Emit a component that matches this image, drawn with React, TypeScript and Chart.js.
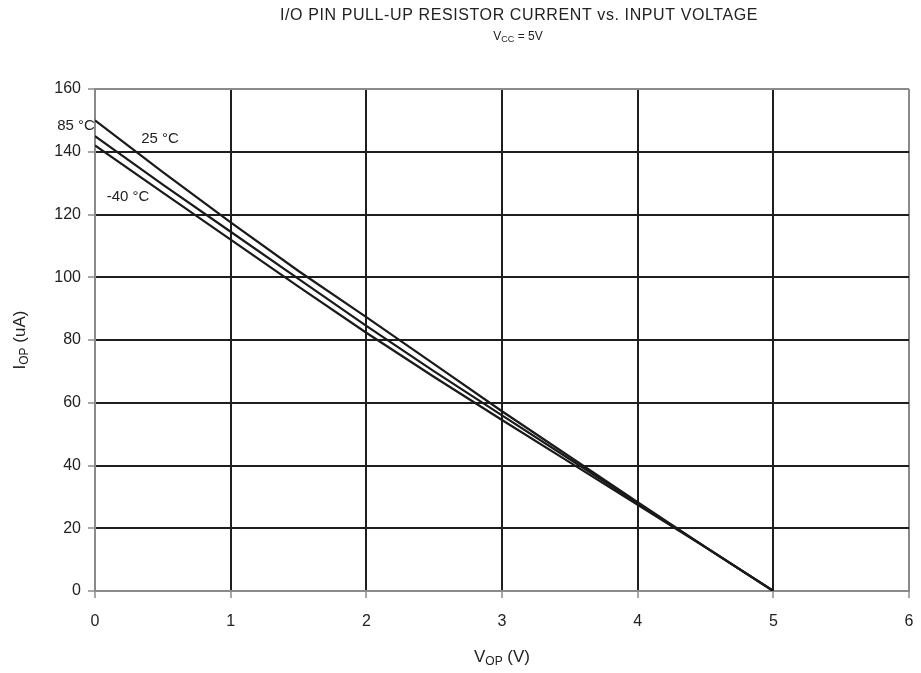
import React, { useEffect, useRef } from "react";
import { Chart, registerables } from "chart.js";
Chart.register(...registerables);

const xTicks = [0, 1, 2, 3, 4, 5, 6];
const yTicks = [0, 20, 40, 60, 80, 100, 120, 140, 160];

const vop85 = [0, 0.5, 1, 1.5, 2, 2.5, 3, 3.5, 4, 4.5, 5];
const iop85 = [150, 133.5, 117.5, 102, 87.3, 72.3, 57.3, 42.8, 28.3, 14, 0];
const vop25 = [0, 0.5, 1, 1.5, 2, 2.5, 3, 3.5, 4, 4.5, 5];
const iop25 = [145, 129.5, 114.5, 99.5, 84.5, 70, 56, 42, 28, 14, 0];
const vopM40 = [0, 0.5, 1, 1.5, 2, 2.5, 3, 3.5, 4, 4.5, 5];
const iopM40 = [142, 127, 112, 97, 82.3, 68.2, 54.5, 41, 27.5, 13.9, 0];

const seriesLabels = ["85 °C", "25 °C", "-40 °C"];

const FONT = "'Liberation Sans', Arial, sans-serif";

function pts(xs: number[], ys: number[]) {
  return xs.map((x, i) => ({ x, y: ys[i] }));
}

function drawSub(ctx: CanvasRenderingContext2D, parts: [string, boolean][], cx: number, cy: number, size: number) {
  let total = 0;
  const widths: number[] = [];
  for (const [t, sub] of parts) {
    ctx.font = `${sub ? Math.round(size * 0.72) : size}px ${FONT}`;
    const w = ctx.measureText(t).width;
    widths.push(w);
    total += w;
  }
  let x = cx - total / 2;
  ctx.textBaseline = "middle";
  ctx.textAlign = "left";
  parts.forEach(([t, sub], i) => {
    ctx.font = `${sub ? Math.round(size * 0.72) : size}px ${FONT}`;
    ctx.fillText(t, x, sub ? cy + size * 0.25 : cy);
    x += widths[i];
  });
}

const textPlugin = {
  id: "texts",
  afterDraw(chart: any) {
    const ctx = chart.ctx as CanvasRenderingContext2D;
    const ys = chart.scales.y;
    ctx.save();
    ctx.fillStyle = "#222";
    ctx.textAlign = "center";
    ctx.textBaseline = "middle";
    ctx.font = `16px ${FONT}`;
    (ctx as any).letterSpacing = "0.6px";
    ctx.fillText("I/O PIN PULL-UP RESISTOR CURRENT vs. INPUT VOLTAGE", 519, 16);
    (ctx as any).letterSpacing = "0px";
    drawSub(ctx, [["V", false], ["CC", true], [" = 5V", false]], 518, 37, 12);
    drawSub(ctx, [["V", false], ["OP", true], [" (V)", false]], 502, 657, 17);
    ctx.save();
    ctx.translate(20, (ys.top + ys.bottom) / 2);
    ctx.rotate(-Math.PI / 2);
    drawSub(ctx, [["I", false], ["OP", true], [" (uA)", false]], 0, 0, 17);
    ctx.restore();
    ctx.font = `15px ${FONT}`;
    ctx.textAlign = "center";
    ctx.textBaseline = "middle";
    ctx.fillText(seriesLabels[0], 76, 126);
    ctx.fillText(seriesLabels[1], 160, 139);
    ctx.fillText(seriesLabels[2], 128, 197);
    ctx.restore();
  },
};

export default function App() {
  const ref = useRef<HTMLCanvasElement>(null);
  useEffect(() => {
    const gridColor = (c: any) => {
      const v = c.tick ? c.tick.value : null;
      if (c.scale.axis === "y") return v === 0 || v === 160 ? "#8a8a8a" : "#1e1e1e";
      return v === 0 || v === 6 ? "#8a8a8a" : "#1e1e1e";
    };
    const line = {
      showLine: true,
      pointRadius: 0,
      borderColor: "#1a1a1a",
      borderWidth: 2.2,
      fill: false,
      tension: 0,
    };
    const chart = new Chart(ref.current!, {
      type: "scatter",
      data: {
        datasets: [
          { label: seriesLabels[0], data: pts(vop85, iop85), ...line },
          { label: seriesLabels[1], data: pts(vop25, iop25), ...line },
          { label: seriesLabels[2], data: pts(vopM40, iopM40), ...line },
        ],
      },
      options: {
        animation: false,
        responsive: false,
        layout: { padding: { top: 89, right: 12, left: 0, bottom: 0 } },
        plugins: { legend: { display: false }, tooltip: { enabled: false } },
        scales: {
          x: {
            type: "linear",
            min: 0,
            max: 6,
            afterBuildTicks: (s: any) => {
              s.ticks = xTicks.map((v) => ({ value: v }));
            },
            afterFit: (s: any) => {
              s.height = 82;
              s.paddingLeft = 0;
              s.paddingRight = 0;
            },
            ticks: { color: "#222", font: { family: FONT, size: 16 }, padding: 14, stepSize: 1 },
            grid: { color: gridColor, lineWidth: 2, tickLength: 7, tickColor: "#8a8a8a", tickWidth: 1.5 },
            border: { display: true, color: "#8a8a8a", width: 2 },
          },
          y: {
            type: "linear",
            min: 0,
            max: 160,
            afterBuildTicks: (s: any) => {
              s.ticks = yTicks.map((v) => ({ value: v }));
            },
            afterFit: (s: any) => {
              s.width = 95;
              s.paddingTop = 0;
              s.paddingBottom = 0;
            },
            ticks: { color: "#222", font: { family: FONT, size: 16 }, padding: 7, stepSize: 20 },
            grid: { color: gridColor, lineWidth: 2, tickLength: 7, tickColor: "#8a8a8a", tickWidth: 1.5 },
            border: { display: true, color: "#8a8a8a", width: 2 },
          },
        },
      },
      plugins: [textPlugin],
    } as any);
    return () => chart.destroy();
  }, []);
  return (
    <div style={{ position: "absolute", left: 0, top: 0, width: 921, height: 673, background: "#fff" }}>
      <canvas ref={ref} width={921} height={673} style={{ display: "block" }} />
    </div>
  );
}
